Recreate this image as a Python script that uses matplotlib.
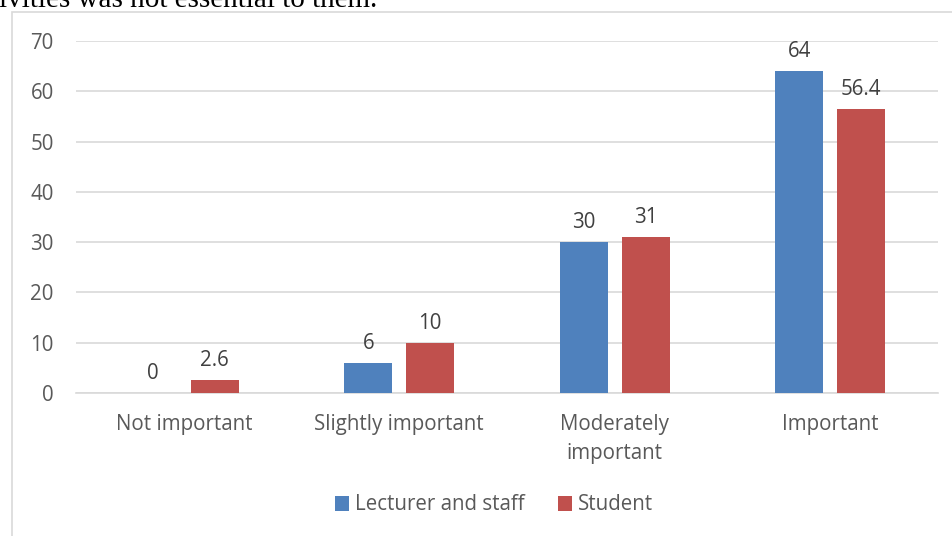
import numpy as np
import matplotlib
matplotlib.use("Agg")
from matplotlib import pyplot as plt
from matplotlib.patches import Rectangle

categories = ["Not important", "Slightly important", "Moderately\nimportant", "Important"]
lecturer_staff = [0, 6, 30, 64]
student = [2.6, 10, 31, 56.4]
series_names = ["Lecturer and staff", "Student"]

blue = "#4F81BD"
red = "#C0504D"
grey_text = "#595959"
fs = 14.8

plt.rcParams["font.family"] = ["Open Sans", "DejaVu Sans"]

fig = plt.figure(figsize=(9.52, 5.36), dpi=100)

# chart frame (continues past the right and bottom edge of the crop)
fig.patches.append(Rectangle((12 / 952, -0.1), 1.0, (536 - 12) / 536 + 0.1,
                             transform=fig.transFigure, fill=False,
                             edgecolor="#D9D9D9", linewidth=1.2))

# sentence above the chart, cut at the top like in the screenshot
fig.text(-0.001, 1.0 - 7 / 536, "ivities was not essential to them.", family="Liberation Serif",
         fontsize=21, color="black", va="baseline", ha="left")

ax = fig.add_axes([76 / 952, (536 - 393) / 536, (938 - 76) / 952, (393 - 41) / 536])

x = np.arange(len(categories))
width = 0.223
offset = 0.144
b1 = ax.bar(x - offset, lecturer_staff, width, color=blue, label=series_names[0], zorder=3)
b2 = ax.bar(x + offset, student, width, color=red, label=series_names[1], zorder=3)

for bars, vals in [(b1, lecturer_staff), (b2, student)]:
    for bar, v in zip(bars, vals):
        ax.text(bar.get_x() + bar.get_width() / 2, v + 1.8, f"{v:g}", ha="center", va="bottom",
                fontsize=fs, color="#404040")

ax.set_xlim(-0.5, len(categories) - 0.5)
ax.set_ylim(0, 70)
ax.set_yticks(range(0, 71, 10))
ax.grid(axis="y", color="#D9D9D9", linewidth=1.2, zorder=0)
ax.set_xticks(x)
ax.set_xticklabels(categories, fontsize=fs, color=grey_text, linespacing=1.5)
ax.tick_params(axis="y", labelsize=fs, labelcolor=grey_text, length=0, pad=16)
ax.tick_params(axis="x", length=0, pad=15)
for s in ax.spines.values():
    s.set_visible(False)
ax.spines["bottom"].set_visible(True)
ax.spines["bottom"].set_color("#D9D9D9")
ax.spines["bottom"].set_linewidth(1.2)

fig.legend(handles=[b1, b2], labels=series_names, loc="center", bbox_to_anchor=(494 / 952, 1 - 505 / 536),
           ncol=2, frameon=False, fontsize=fs, labelcolor=grey_text, handlelength=0.7, handleheight=0.7,
           handletextpad=0.3, columnspacing=1.6)

fig.savefig("out.png", dpi=100)
